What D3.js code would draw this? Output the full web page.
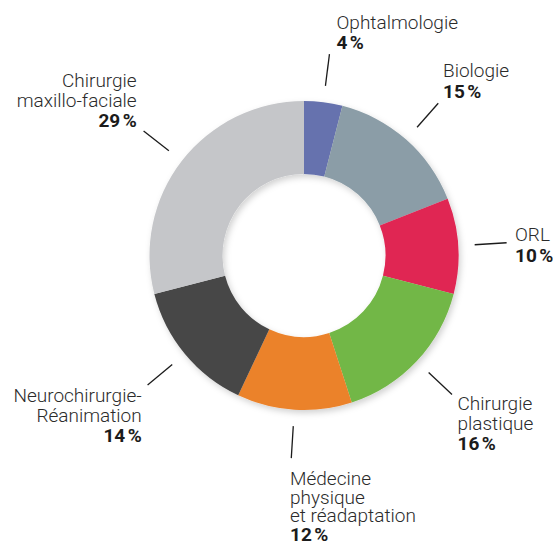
<!DOCTYPE html>
<html>
<head>
<meta charset="utf-8">
<script src="https://cdn.jsdelivr.net/npm/d3@7"></script>
<style>
  html, body { margin: 0; padding: 0; background: #fff; }
  svg { display: block; }
  .lbl { font-family: Roboto, "Open Sans", sans-serif; font-size: 19px; font-weight: 300; fill: #2b2b2b; }
  .pct { font-weight: 700; fill: #1b1b1b; }
</style>
</head>
<body>
<div id="chart"></div>
<script>
// data, clockwise from 12 o'clock
const categories = [
  "Ophtalmologie",
  "Biologie",
  "ORL",
  "Chirurgie plastique",
  "Médecine physique et réadaptation",
  "Neurochirurgie-Réanimation",
  "Chirurgie maxillo-faciale"
];
const shares = [4, 15, 10, 16, 12, 14, 29];
// how each label is broken on the page
const labelLines = [
  ["Ophtalmologie"],
  ["Biologie"],
  ["ORL"],
  ["Chirurgie", "plastique"],
  ["Médecine", "physique", "et réadaptation"],
  ["Neurochirurgie-", "Réanimation"],
  ["Chirurgie", "maxillo-faciale"]
];

const colors = ["#6672ae", "#8b9da7", "#e02553", "#72b746", "#eb822b", "#474747", "#c5c6c9"];

// label anchors: x, first baseline, anchor, line height
const labelPos = [
  { x: 336.5, y: 28.5, anchor: "start", lh: 20 },
  { x: 443, y: 77, anchor: "start", lh: 21 },
  { x: 515, y: 241, anchor: "start", lh: 21 },
  { x: 457.5, y: 410, anchor: "start", lh: 20 },
  { x: 290, y: 485, anchor: "start", lh: 18.6 },
  { x: 141.7, y: 401.7, anchor: "end", lh: 20 },
  { x: 136.7, y: 87, anchor: "end", lh: 20 }
];

const width = 553, height = 543;
const cx = 304, cy = 255.5;
const outerR = 154.5, innerR = 81.5;

const svg = d3.select("#chart").append("svg")
  .attr("width", width)
  .attr("height", height);

// soft shadow under the ring
const filter = svg.append("defs").append("filter")
  .attr("id", "shadow")
  .attr("x", "-20%").attr("y", "-20%")
  .attr("width", "140%").attr("height", "140%");
filter.append("feDropShadow")
  .attr("dx", 2).attr("dy", 3)
  .attr("stdDeviation", 3)
  .attr("flood-color", "#000")
  .attr("flood-opacity", 0.18);

const g = svg.append("g").attr("transform", `translate(${cx},${cy})`);

const pie = d3.pie().sort(null).value((d) => d.value);
const slices = pie(shares.map((v, i) => ({ value: v, i })));

const arc = d3.arc().innerRadius(innerR).outerRadius(outerR);

g.append("g")
  .attr("filter", "url(#shadow)")
  .selectAll("path")
  .data(slices)
  .enter()
  .append("path")
  .attr("d", arc)
  .attr("fill", (d) => colors[d.index]);

// leader lines, radial at each slice's mid angle
const lineIn = 171, lineOut = 203;
const mid = (d) => (d.startAngle + d.endAngle) / 2;
g.selectAll(".leader")
  .data(slices)
  .enter()
  .append("line")
  .attr("class", "leader")
  .attr("x1", (d) => lineIn * Math.sin(mid(d)))
  .attr("y1", (d) => -lineIn * Math.cos(mid(d)))
  .attr("x2", (d) => lineOut * Math.sin(mid(d)))
  .attr("y2", (d) => -lineOut * Math.cos(mid(d)))
  .attr("stroke", "#1b1b1b")
  .attr("stroke-width", 1.3);

// labels
const labels = svg.selectAll(".lbl")
  .data(slices)
  .enter()
  .append("text")
  .attr("class", "lbl")
  .attr("text-anchor", (d) => labelPos[d.index].anchor);

labels.each(function (d) {
  const p = labelPos[d.index];
  const t = d3.select(this);
  const lines = labelLines[d.index];
  lines.forEach((s, k) => {
    t.append("tspan")
      .attr("x", p.x)
      .attr("y", p.y + k * p.lh)
      .text(s);
  });
  t.append("tspan")
    .attr("class", "pct")
    .attr("x", p.x)
    .attr("y", p.y + lines.length * p.lh)
    .text(shares[d.index] + "\u202F%");
});
</script>
</body>
</html>
